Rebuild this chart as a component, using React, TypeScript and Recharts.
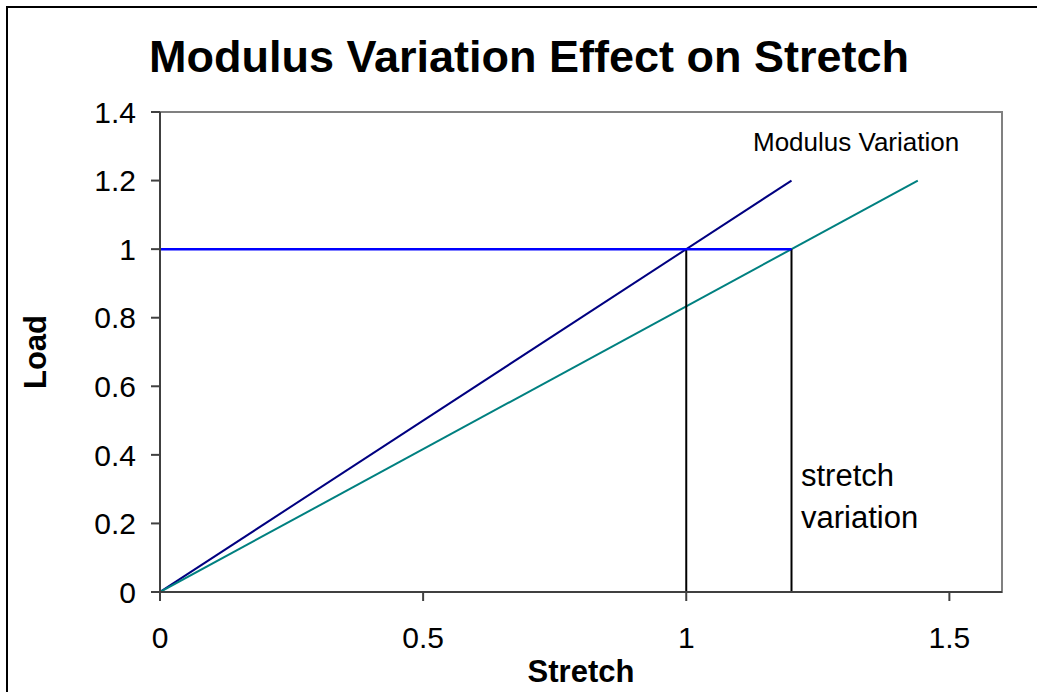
import {
  LineChart,
  Line,
  XAxis,
  YAxis,
  ReferenceArea,
  Label,
} from "recharts";

const xTicks = [0, 0.5, 1, 1.5];
const yTicks = [0, 0.2, 0.4, 0.6, 0.8, 1, 1.2, 1.4];

// base modulus line and the reduced-modulus line
const baseLine = [
  { x: 0, y: 0 },
  { x: 1.2, y: 1.2 },
];
const variedLine = [
  { x: 0, y: 0 },
  { x: 1.44, y: 1.2 },
];
const loadLine = [
  { x: 0, y: 1 },
  { x: 1.2, y: 1 },
];
const stretchA = [
  { x: 1, y: 0 },
  { x: 1, y: 1 },
];
const stretchB = [
  { x: 1.2, y: 0 },
  { x: 1.2, y: 1 },
];

const FONT = "'Liberation Sans', Arial, sans-serif";

export default function App() {
  return (
    <div
      style={{
        position: "absolute",
        left: 0,
        top: 0,
        width: 1037,
        height: 692,
        background: "#fff",
        fontFamily: FONT,
        overflow: "hidden",
      }}
    >
      <div
        style={{
          position: "absolute",
          left: 6,
          top: 6,
          width: 1100,
          height: 800,
          border: "2px solid #000",
          boxSizing: "border-box",
        }}
      />
      <div
        style={{
          position: "absolute",
          left: 0,
          width: 1058,
          top: 30,
          textAlign: "center",
          fontSize: 45,
          fontWeight: "bold",
          lineHeight: "54px",
        }}
      >
        Modulus Variation Effect on Stretch
      </div>
      <div style={{ position: "absolute", left: 0, top: 0 }}>
        <LineChart
          width={1037}
          height={692}
          margin={{ top: 112, right: 35, bottom: 40, left: 60 }}
        >
          <XAxis
            type="number"
            dataKey="x"
            domain={[0, 1.6]}
            ticks={xTicks}
            allowDataOverflow
            stroke="#404040"
            strokeWidth={2}
            tickSize={9}
            tick={{ fill: "#000", fontSize: 30, fontFamily: FONT }}
            tickMargin={26}
            height={60}
          >
            <Label
              value="Stretch"
              position="insideBottom"
              offset={-30}
              style={{ fontSize: 31, fontWeight: "bold", fill: "#000", fontFamily: FONT }}
            />
          </XAxis>
          <YAxis
            type="number"
            domain={[0, 1.4]}
            ticks={yTicks}
            allowDataOverflow
            stroke="#404040"
            strokeWidth={2}
            tickSize={9}
            tick={{ fill: "#000", fontSize: 30, fontFamily: FONT }}
            tickMargin={15}
            width={100}
          >
            <Label
              value="Load"
              angle={-90}
              position="insideLeft"
              offset={-25}
              style={{ fontSize: 31, fontWeight: "bold", fill: "#000", fontFamily: FONT, textAnchor: "middle" }}
            />
          </YAxis>
          <ReferenceArea
            x1={0}
            x2={1.6}
            y1={0}
            y2={1.4}
            fill="none"
            stroke="#808080"
            strokeWidth={2}
          />
          <Line data={baseLine} dataKey="y" stroke="#000080" strokeWidth={2} dot={false} isAnimationActive={false} />
          <Line data={variedLine} dataKey="y" stroke="#008080" strokeWidth={2} dot={false} isAnimationActive={false} />
          <Line data={stretchA} dataKey="y" stroke="#000" strokeWidth={2} dot={false} isAnimationActive={false} />
          <Line data={stretchB} dataKey="y" stroke="#000" strokeWidth={2} dot={false} isAnimationActive={false} />
          <Line data={loadLine} dataKey="y" stroke="#0000ff" strokeWidth={2.5} dot={false} isAnimationActive={false} />
        </LineChart>
      </div>
      <div style={{ position: "absolute", left: 753, top: 127, fontSize: 26, lineHeight: "30px" }}>
        Modulus Variation
      </div>
      <div style={{ position: "absolute", left: 801, top: 455, fontSize: 31, lineHeight: "42px" }}>
        stretch
        <br />
        variation
      </div>
    </div>
  );
}
